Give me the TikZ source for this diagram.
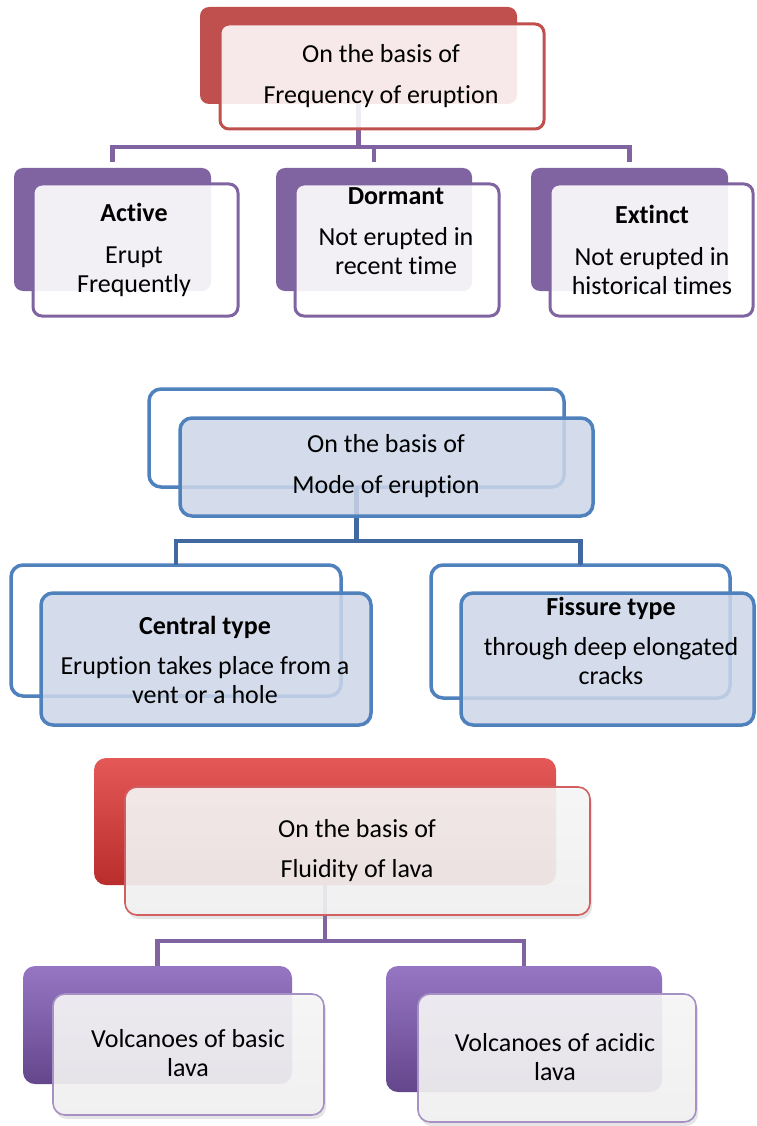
\documentclass[tikz,border=0pt]{standalone}
\usepackage{fontspec}
\setmainfont{Carlito}[Ligatures=NoCommon]
\usetikzlibrary{shadows}
\definecolor{topred}{RGB}{192,80,77}
\definecolor{vpurple}{RGB}{128,100,162}
\definecolor{vblue}{RGB}{79,129,189}
\definecolor{vdarkblue}{RGB}{65,105,159}
\definecolor{bluefill}{RGB}{205,215,233}
\definecolor{glossred}{RGB}{207,58,58}
\definecolor{glossredtop}{RGB}{228,88,88}
\definecolor{glossreddark}{RGB}{185,45,45}
\definecolor{glosspurp}{RGB}{126,90,166}
\definecolor{glosspurptop}{RGB}{150,118,195}
\definecolor{glosspurpdark}{RGB}{100,70,140}
\definecolor{frontred}{RGB}{210,95,95}
\definecolor{frontpurp}{RGB}{165,145,195}
\tikzset{
  box/.style={rectangle, inner sep=0pt, outer sep=0pt},
  redback/.style={box, rounded corners=9pt, fill=topred},
  redfront/.style={box, rounded corners=9pt, draw=topred, line width=3pt, fill=white, fill opacity=0.88},
  purpback/.style={box, rounded corners=9pt, fill=vpurple},
  purpfront/.style={box, rounded corners=9pt, draw=vpurple, line width=3pt, fill=white, fill opacity=0.9},
  blueback/.style={box, rounded corners=12pt, draw=vblue, line width=3.5pt, fill=white},
  bluefront/.style={box, rounded corners=12pt, draw=vblue, line width=3.5pt, fill=bluefill, fill opacity=0.85},
  glossredback/.style={box, rounded corners=12pt, top color=glossredtop, middle color=glossred, bottom color=glossreddark},
  glosspurpback/.style={box, rounded corners=12pt, top color=glosspurptop, middle color=glosspurp, bottom color=glosspurpdark},
  glossfront/.style={box, rounded corners=12pt, line width=1.6pt, top color=white!97!black, bottom color=white!95!black, fill opacity=0.9,
     drop shadow={shadow xshift=2pt, shadow yshift=-4pt, opacity=0.2}},
  purpconn/.style={draw=vpurple, line width=4.5pt},
  blueconn/.style={draw=vdarkblue, line width=4.5pt},
  txt/.style={align=center, font=\fontsize{26}{29}\selectfont, inner sep=0pt, text=black},
}
\begin{document}
\begin{tikzpicture}[x=1pt, y=-1pt]
\useasboundingbox (0,0) rectangle (756,1126);
\fill[white] (0,0) rectangle (756,1126);

% ---------- top section ----------
\node[redback, minimum width=317pt, minimum height=97pt] (topback) at (358.5,55.5) {};
\node[purpback, minimum width=197pt, minimum height=123pt] (activeback) at (112.5,229.5) {};
\node[purpback, minimum width=196pt, minimum height=123pt] (dormantback) at (374,229.5) {};
\node[purpback, minimum width=197pt, minimum height=123pt] (extinctback) at (629.5,229.5) {};
\coordinate (topbus) at (0,147);
\draw[purpconn] (topback.south) -- (topback.south |- topbus);
\draw[purpconn, shorten >=6pt] (topback.south |- topbus) -| (activeback.north);
\draw[purpconn, shorten >=6pt] (topback.south |- topbus) -| (dormantback.north);
\draw[purpconn, shorten >=6pt] (topback.south |- topbus) -| (extinctback.north);
\node[redfront, minimum width=324pt, minimum height=105pt] (topfront) at (382,76.5) {};
\node[purpfront, minimum width=205pt, minimum height=132pt] (activefront) at (135.5,250) {};
\node[purpfront, minimum width=204pt, minimum height=132pt] (dormantfront) at (397,250) {};
\node[purpfront, minimum width=203pt, minimum height=132pt] (extinctfront) at (651.5,250) {};
\node[txt] (toptxt) at (381,76) {On the basis of\\[12pt]Frequency of eruption};
\node[txt] (activetxt) at (134,250) {\textbf{Active}\\[13pt]Erupt\\Frequently};
\node[txt] (dormanttxt) at (396,231) {\textbf{Dormant}\\[12pt]Not erupted in\\recent time};
\node[txt] (extincttxt) at (652,250) {\textbf{Extinct}\\[13pt]Not erupted in\\historical times};

% ---------- middle section ----------
\node[blueback, minimum width=415pt, minimum height=98pt] (midback) at (356.5,438) {};
\node[blueback, minimum width=330pt, minimum height=131pt] (centback) at (176,630.5) {};
\node[blueback, minimum width=299pt, minimum height=133pt] (fissback) at (580.5,631.5) {};
\coordinate (midbus) at (0,541);
\draw[blueconn] (midback.south) -- (midback.south |- midbus);
\draw[blueconn] (midback.south |- midbus) -| (centback.north);
\draw[blueconn] (midback.south |- midbus) -| (fissback.north);
\node[bluefront, minimum width=413pt, minimum height=98pt] (midfront) at (386.5,467) {};
\node[bluefront, minimum width=330pt, minimum height=132pt] (centfront) at (206,659) {};
\node[bluefront, minimum width=293pt, minimum height=132pt] (fissfront) at (607.5,659) {};
\node[txt] (midtxt) at (386,466.5) {On the basis of\\[12pt]Mode of eruption};
\node[txt] (centtxt) at (205,660) {\textbf{Central type}\\[11pt]Eruption takes place from a\\vent or a hole};
\node[txt] (fisstxt) at (611,641) {\textbf{Fissure type}\\[11pt]through deep elongated\\cracks};

% ---------- bottom section ----------
\node[glossredback, minimum width=462pt, minimum height=127pt] (botback) at (325,821.5) {};
\node[glosspurpback, minimum width=269pt, minimum height=118pt] (basicback) at (157.5,1025) {};
\node[glosspurpback, minimum width=276pt, minimum height=126pt] (acidback) at (524,1029) {};
\coordinate (botbus) at (0,941);
\draw[purpconn] (botback.south) -- (botback.south |- botbus);
\draw[purpconn] (botback.south |- botbus) -| (basicback.north);
\draw[purpconn] (botback.south |- botbus) -| (acidback.north);
\node[glossfront, draw=frontred, minimum width=465pt, minimum height=128pt] (botfront) at (357.5,851) {};
\node[glossfront, draw=frontpurp, minimum width=271pt, minimum height=121pt] (basicfront) at (188.5,1054.5) {};
\node[glossfront, draw=frontpurp, minimum width=278pt, minimum height=128pt] (acidfront) at (557,1058) {};
\node[txt] (bottxt) at (357,851) {On the basis of\\[11pt]Fluidity of lava};
\node[txt] (basictxt) at (188,1053) {Volcanoes of basic\\lava};
\node[txt] (acidtxt) at (555,1057) {Volcanoes of acidic\\lava};
\end{tikzpicture}
\end{document}
